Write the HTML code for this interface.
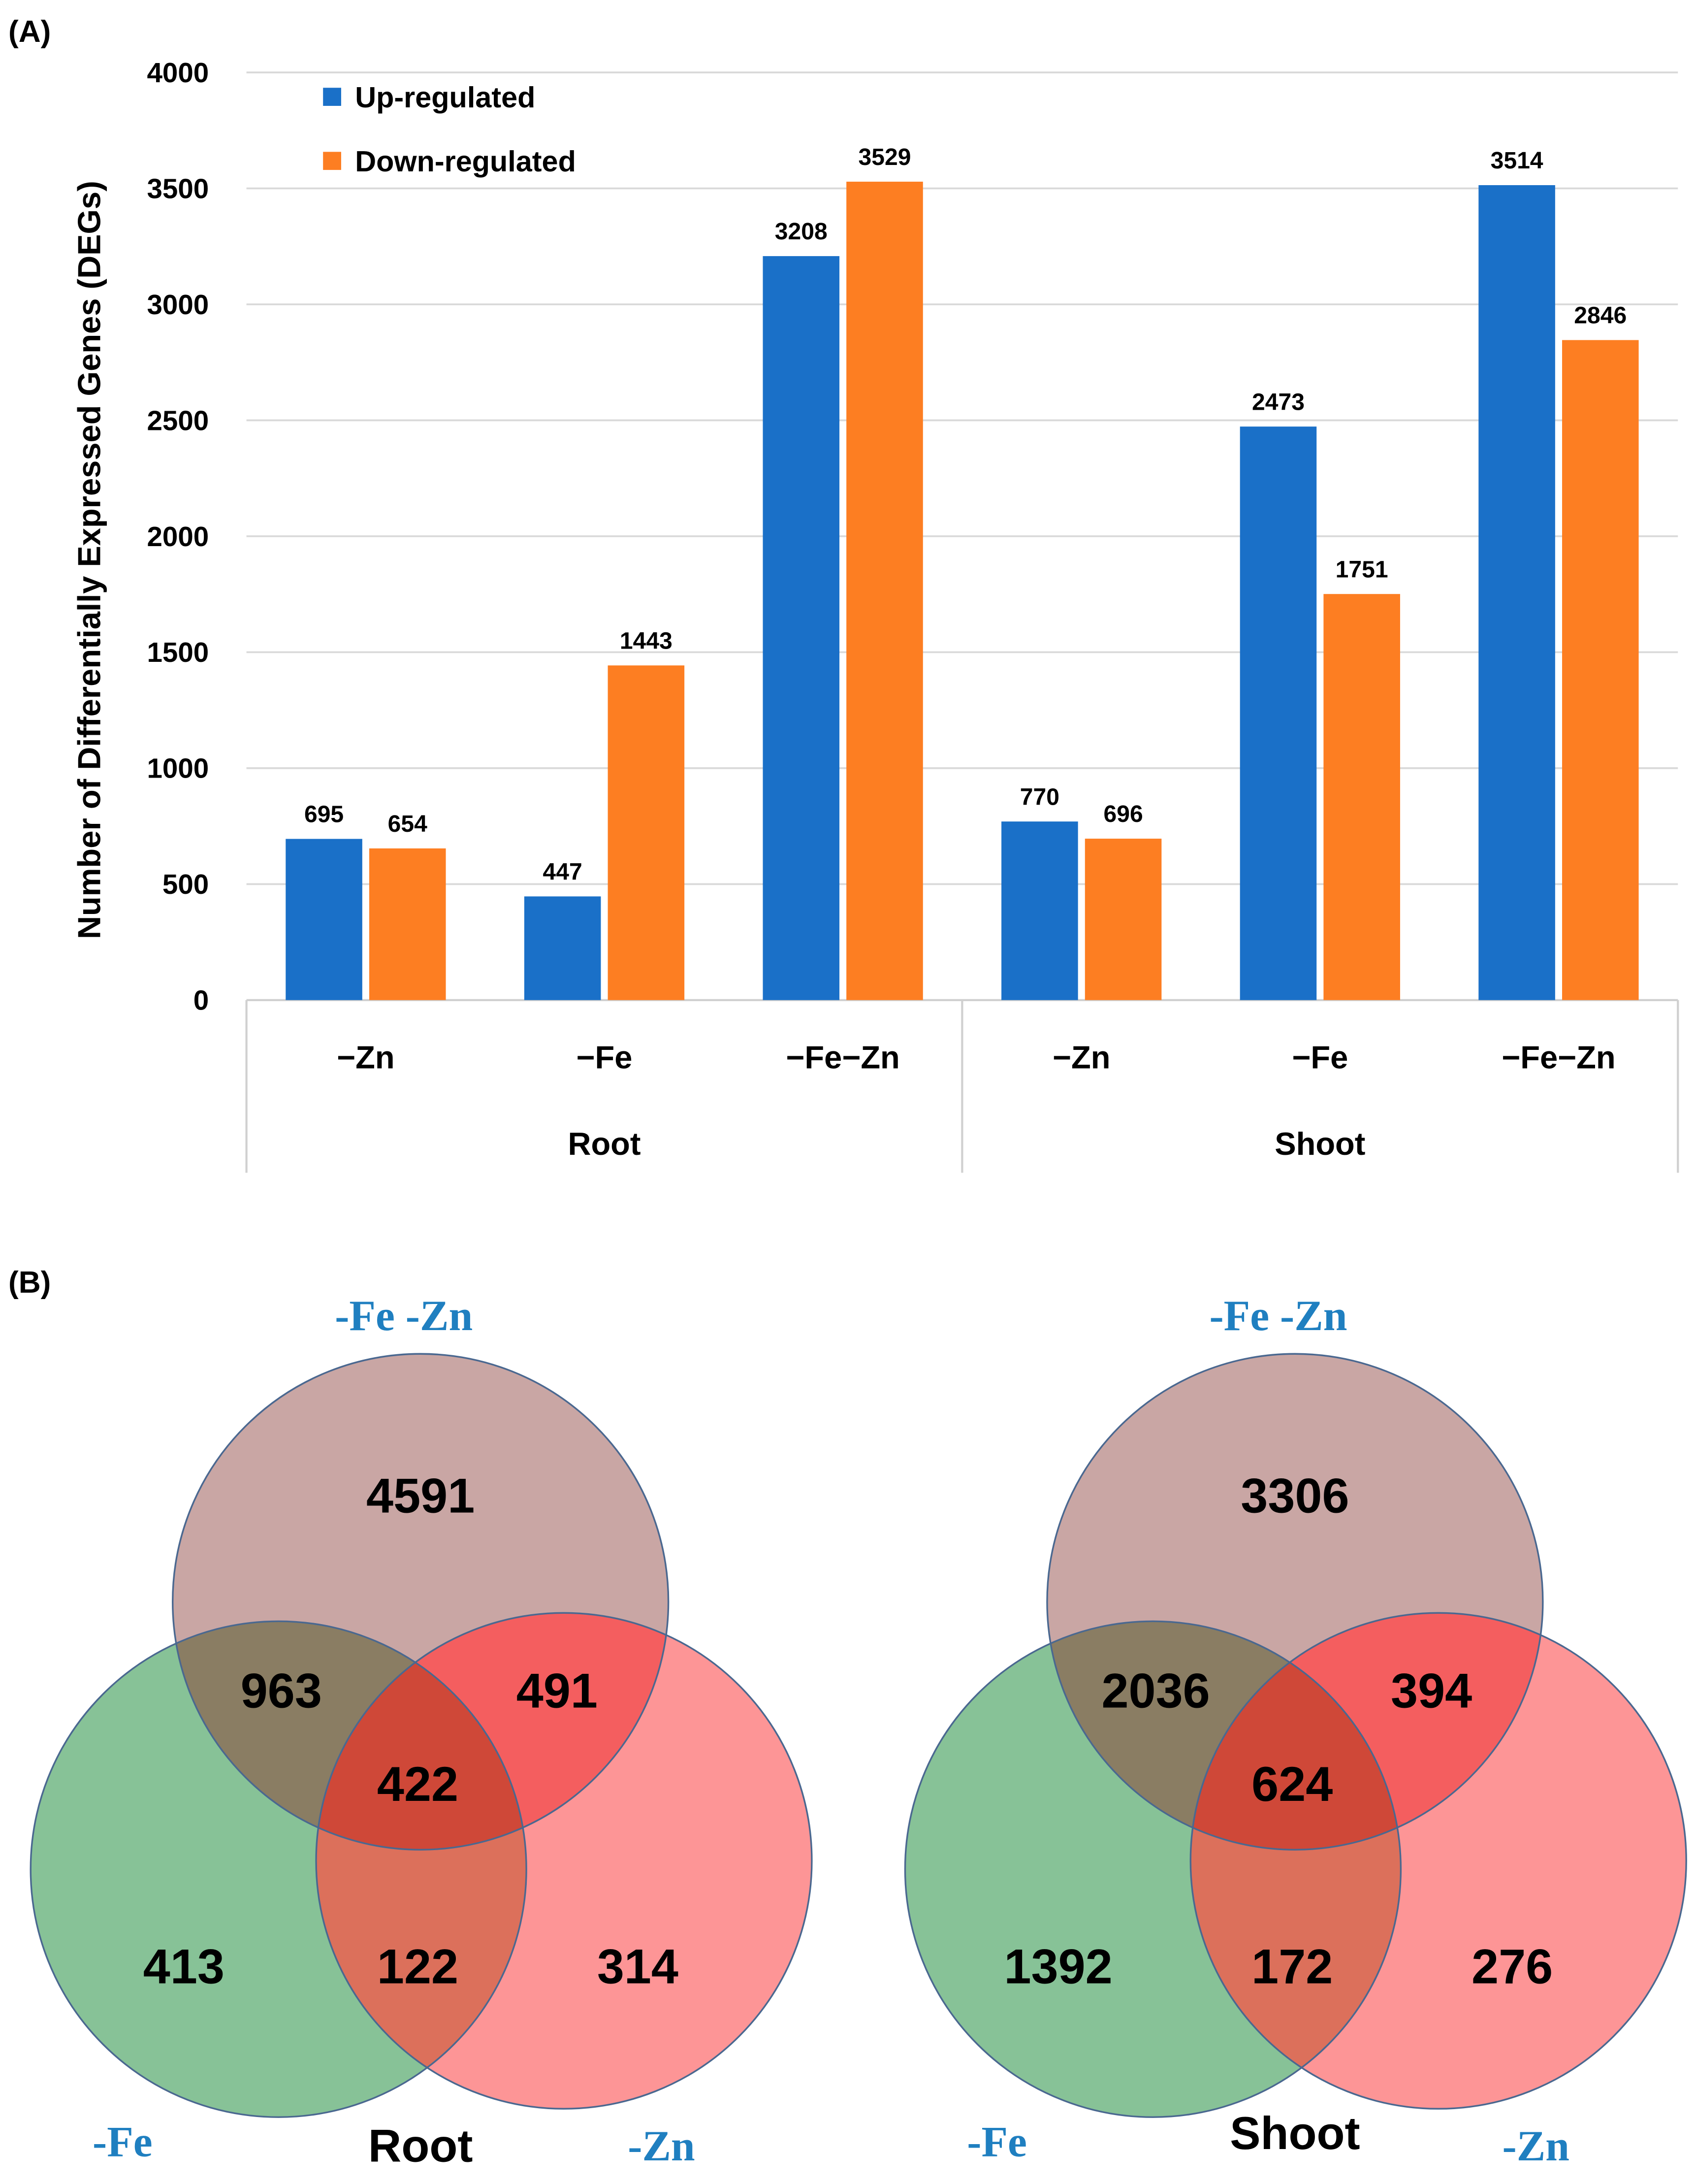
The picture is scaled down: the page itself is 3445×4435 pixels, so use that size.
<!DOCTYPE html>
<html><head><meta charset="utf-8">
<style>
html,body{margin:0;padding:0;background:#fff}
svg{display:block}
text{font-family:"Liberation Sans",sans-serif}
</style></head>
<body>
<svg id="fig" width="3445" height="4435" viewBox="0 0 1218 1568" xmlns="http://www.w3.org/2000/svg">
<text x="6" y="30" font-size="22" font-weight="bold">(A)</text>
<g id="chart"></g>
<text x="6" y="928" font-size="22" font-weight="bold">(B)</text>
<g id="venns"></g>
</svg>
<script>
const categories=["\u2212Zn","\u2212Fe","\u2212Fe\u2212Zn","\u2212Zn","\u2212Fe","\u2212Fe\u2212Zn"];
const groups=["Root","Shoot"];
const upValues=[695,447,3208,770,2473,3514];
const downValues=[654,1443,3529,696,1751,2846];
const yTicks=[0,500,1000,1500,2000,2500,3000,3500,4000];
const seriesNames=["Up-regulated","Down-regulated"];

const NS="http://www.w3.org/2000/svg";
function mk(tag,attrs,parent,txt){const e=document.createElementNS(NS,tag);for(const k in attrs)e.setAttribute(k,attrs[k]);if(txt!==undefined)e.textContent=txt;parent.appendChild(e);return e;}
const chart=document.getElementById('chart');
const X0=177,X1=1205,Y0=718,Y4=52,YMAX=4000;
const y=v=>Y0-(v/YMAX)*(Y0-Y4);
const catW=(X1-X0)/categories.length;
const xc=i=>X0+catW*(i+0.5);

yTicks.forEach(t=>{
  if(t>0){const g=mk('line',{x1:X0,x2:X1,y1:y(t),y2:y(t),stroke:'#d9d9d9','stroke-width':1.3},chart);
  
  }
  const l=mk('text',{x:150,y:y(t)+7,'font-size':20,'font-weight':'bold','text-anchor':'end'},chart,String(t));
  
  
});
const ax=mk('line',{x1:X0,x2:X1,y1:Y0,y2:Y0,stroke:'#d0d0d0','stroke-width':1.5},chart);


[X0,(X0+X1)/2,X1].forEach((x,i)=>{
  const s=mk('line',{x1:x,x2:x,y1:Y0,y2:842,stroke:'#d0d0d0','stroke-width':1.5},chart);
  
  
});
const BW=55,GAP=5;
categories.forEach((c,i)=>{
  const cx=xc(i);
  const bu=mk('rect',{x:cx-GAP/2-BW,y:y(upValues[i]),width:BW,height:Y0-y(upValues[i]),fill:'#1a70c8'},chart);
  
  
  const bd=mk('rect',{x:cx+GAP/2,y:y(downValues[i]),width:BW,height:Y0-y(downValues[i]),fill:'#fd7e22'},chart);
  
  
  const lu=mk('text',{x:cx-GAP/2-BW/2,y:y(upValues[i])-12,'font-size':17,'font-weight':'bold','text-anchor':'middle'},chart,String(upValues[i]));
  
  
  const ld=mk('text',{x:cx+GAP/2+BW/2,y:y(downValues[i])-12,'font-size':17,'font-weight':'bold','text-anchor':'middle'},chart,String(downValues[i]));
  
  
  const cl=mk('text',{x:cx,y:767,'font-size':23,'font-weight':'bold','text-anchor':'middle'},chart,c);
  
  
});
groups.forEach((g,i)=>{
  const gx=X0+(X1-X0)/groups.length*(i+0.5);
  const t=mk('text',{x:gx,y:829,'font-size':23,'font-weight':'bold','text-anchor':'middle'},chart,g);
  
  
});
const yt=mk('text',{x:0,y:0,'font-size':23,'font-weight':'bold','text-anchor':'middle',transform:'translate(72,402) rotate(-90)'},chart,'Number of Differentially Expressed Genes (DEGs)');


[['#1a70c8',70],['#fd7e22',116]].forEach((s,i)=>{
  const r=mk('rect',{x:232,y:s[1]-7,width:13,height:13,fill:s[0]},chart);
  
  
  const t=mk('text',{x:255,y:s[1]+7,'font-size':21,'font-weight':'bold'},chart,seriesNames[i]);
  
  
});

// Venn diagrams
const vennRootCounts=[4591,963,491,422,413,122,314];
const vennShootCounts=[3306,2036,394,624,1392,172,276];
const venns=document.getElementById('venns');
const defs=mk('defs',{},venns);
function venn(ox,counts,name,title,titleY){
  const g=mk('g',{},venns);
  
  
  const R=178;
  const T=[ox,1150],L=[ox-102,1342],Rt=[ox+103,1336];
  [['T',T],['L',L],['R',Rt]].forEach(([k,c])=>{
    const cp=mk('clipPath',{id:name+k},defs);mk('circle',{cx:c[0],cy:c[1],r:R},cp);
  });
  mk('circle',{cx:T[0],cy:T[1],r:R,fill:'#c9a6a4'},g);
  mk('circle',{cx:L[0],cy:L[1],r:R,fill:'#87c297'},g);
  mk('circle',{cx:Rt[0],cy:Rt[1],r:R,fill:'#fd9596'},g);
  mk('circle',{cx:T[0],cy:T[1],r:R,fill:'#8a7d63','clip-path':'url(#'+name+'L)'},g);
  mk('circle',{cx:T[0],cy:T[1],r:R,fill:'#f45e5f','clip-path':'url(#'+name+'R)'},g);
  mk('circle',{cx:L[0],cy:L[1],r:R,fill:'#dc705b','clip-path':'url(#'+name+'R)'},g);
  const g3=mk('g',{'clip-path':'url(#'+name+'L)'},g);
  mk('circle',{cx:T[0],cy:T[1],r:R,fill:'#cf4838','clip-path':'url(#'+name+'R)'},g3);
  [T,L,Rt].forEach(c=>mk('circle',{cx:c[0],cy:c[1],r:R,fill:'none',stroke:'#4a6890','stroke-width':1.2},g));
  const pos=[[0,-77],[-100,63],[98,63],[-2,130],[-170,261],[-2,261],[156,261]];
  counts.forEach((v,i)=>{
    const t=mk('text',{x:ox+pos[i][0],y:1150+pos[i][1]+13,'font-size':35,'font-weight':'bold','text-anchor':'middle'},g,String(v));
    
    
  });
  const sf='font-family:"Liberation Serif",serif';
  const t1=mk('text',{x:ox-12,y:955,'font-size':31,'font-weight':'bold','text-anchor':'middle',fill:'#1f7fc0',style:sf},g,'-Fe -Zn');
  
  
  const t2=mk('text',{x:ox-214,y:1548,'font-size':31,'font-weight':'bold','text-anchor':'middle',fill:'#1f7fc0',style:sf},g,'-Fe');
  
  
  const t3=mk('text',{x:ox+173,y:1551,'font-size':31,'font-weight':'bold','text-anchor':'middle',fill:'#1f7fc0',style:sf},g,'-Zn');
  
  
  const t4=mk('text',{x:ox,y:titleY,'font-size':33,'font-weight':'bold','text-anchor':'middle'},g,title);
  
  
}
venn(302,vennRootCounts,'root','Root',1552);
venn(930,vennShootCounts,'shoot','Shoot',1543);
</script>
</body></html>
